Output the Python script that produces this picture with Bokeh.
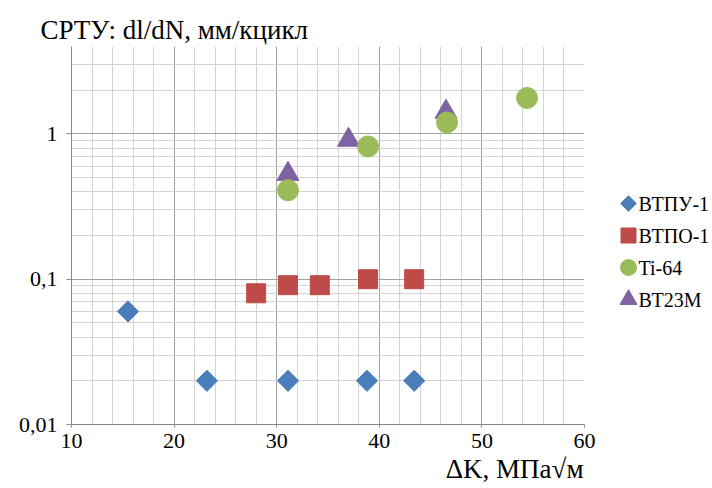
from bokeh.plotting import figure
from bokeh.layouts import row
from bokeh.core.properties import value
from bokeh.models import Range1d, FixedTicker, CustomJSTickFormatter, Title
from bokeh.embed import file_html
from bokeh.resources import INLINE
import numpy as np

# ---- data ----
x_vtpu = [15.5, 23.2, 31.1, 38.8, 43.4]
y_vtpu = [0.06, 0.02, 0.02, 0.02, 0.02]

x_vtpo = [28.0, 31.1, 34.2, 38.9, 43.4]
y_vtpo = [0.08, 0.091, 0.091, 0.1, 0.1]

x_ti = [31.1, 38.9, 46.6, 54.4]
y_ti = [0.41, 0.82, 1.2, 1.77]

x_vt23 = [31.1, 37.0, 46.5]
y_vt23 = [0.53, 0.91, 1.42]

series_names = ["ВТПУ-1", "ВТПО-1", "Ti-64", "ВТ23М"]

x_ticks = [10, 20, 30, 40, 50, 60]
x_minor = list(range(10, 61, 2))
y_ticks = [0.01, 0.1, 1]
y_minor = [k * 0.01 for k in range(2, 10)] + [k * 0.1 for k in range(2, 10)] + [2, 3, 4]

title_text = "СРТУ: dl/dN, мм/кцикл"
xlabel_text = "ΔK, МПа√м"

FONT = "Liberation Serif"
colors = ["#4a7ebb", "#be4b48", "#9bbb59", "#7f62a1"]
markers = ["square", "square", "circle", "triangle"]
angles = [np.pi / 4, 0.0, 0.0, 0.0]
sizes = [15, 19, 21, 22]
legend_sizes = [11, 15, 16, 17]
xs = [x_vtpu, x_vtpo, x_ti, x_vt23]
ys = [y_vtpu, y_vtpo, y_ti, y_vt23]

p = figure(width=600, height=488, x_range=Range1d(10, 60), y_range=Range1d(0.01, 4),
           y_axis_type="log", output_backend="svg", toolbar_location=None,
           min_border_left=71, min_border_right=16, min_border_top=46,
           min_border_bottom=64)
p.outline_line_color = None
p.background_fill_color = "white"
p.border_fill_color = "white"

p.title.text = title_text
p.title.align = "left"
p.title.offset = -31
p.title.standoff = 3
p.title.text_font = FONT
p.title.text_font_size = "27px"
p.title.text_font_style = "normal"
p.title.text_color = "black"

p.xaxis.ticker = FixedTicker(ticks=x_ticks, minor_ticks=x_minor)
p.yaxis.ticker = FixedTicker(ticks=y_ticks, minor_ticks=y_minor)
p.yaxis.formatter = CustomJSTickFormatter(code="return tick.toString().replace('.', ',')")

for ax in (p.xaxis, p.yaxis):
    ax.axis_line_color = "#868686"
    ax.major_tick_line_color = "#868686"
    ax.minor_tick_line_color = None
    ax.major_tick_in = 0
    ax.major_label_text_font = FONT
    ax.major_label_text_font_size = "22px"
    ax.major_label_text_font_style = "normal"
    ax.major_label_text_color = "black"
p.xaxis.major_tick_out = 3
p.xaxis.major_label_standoff = 5
p.yaxis.major_tick_out = 5
p.yaxis.major_label_standoff = 9

for g in (p.xgrid, p.ygrid):
    g.grid_line_color = "#a4a4a4"
    g.minor_grid_line_color = "#d4d4d4"

xlabel = Title(text=xlabel_text, align="right", offset=1, standoff=2,
               text_font=FONT, text_font_size="27px", text_font_style="normal",
               text_color="black")
p.add_layout(xlabel, "below")

# draw order: triangles below circles (as in the reference)
for i in [0, 1, 3, 2]:
    p.scatter(xs[i], ys[i], marker=markers[i], angle=angles[i], size=sizes[i],
              fill_color=colors[i], line_color=colors[i])

# ---- legend panel at the right (frame aligned with the main plot) ----
FRAME_TOP, FRAME_H = 46, 378
LEG_TOP, LEG_STEP = 203, 32
y_end = (LEG_TOP - FRAME_TOP) / LEG_STEP
y_start = y_end - FRAME_H / LEG_STEP
pl = figure(width=112, height=488, x_range=Range1d(0, 112), y_range=Range1d(y_start, y_end),
            output_backend="svg", toolbar_location=None,
            x_axis_location=None, y_axis_location=None,
            min_border_left=0, min_border_right=0, min_border_top=0, min_border_bottom=0)
pl.outline_line_color = None
pl.xgrid.visible = False
pl.ygrid.visible = False
pl.background_fill_color = "white"
pl.border_fill_color = "white"

swatch_x, label_x = 28, 38
for i in range(4):
    pl.scatter([swatch_x], [-i], marker=markers[i], angle=angles[i], size=legend_sizes[i],
               fill_color=colors[i], line_color=colors[i])
pl.text(x=[label_x] * 4, y=[-i for i in range(4)], text=series_names,
        text_font=value(FONT), text_font_size="20px", text_font_style="normal",
        text_baseline="middle", text_align="left", text_color="black")

layout = row(p, pl)
open("out.html", "w").write(file_html(layout, INLINE))
